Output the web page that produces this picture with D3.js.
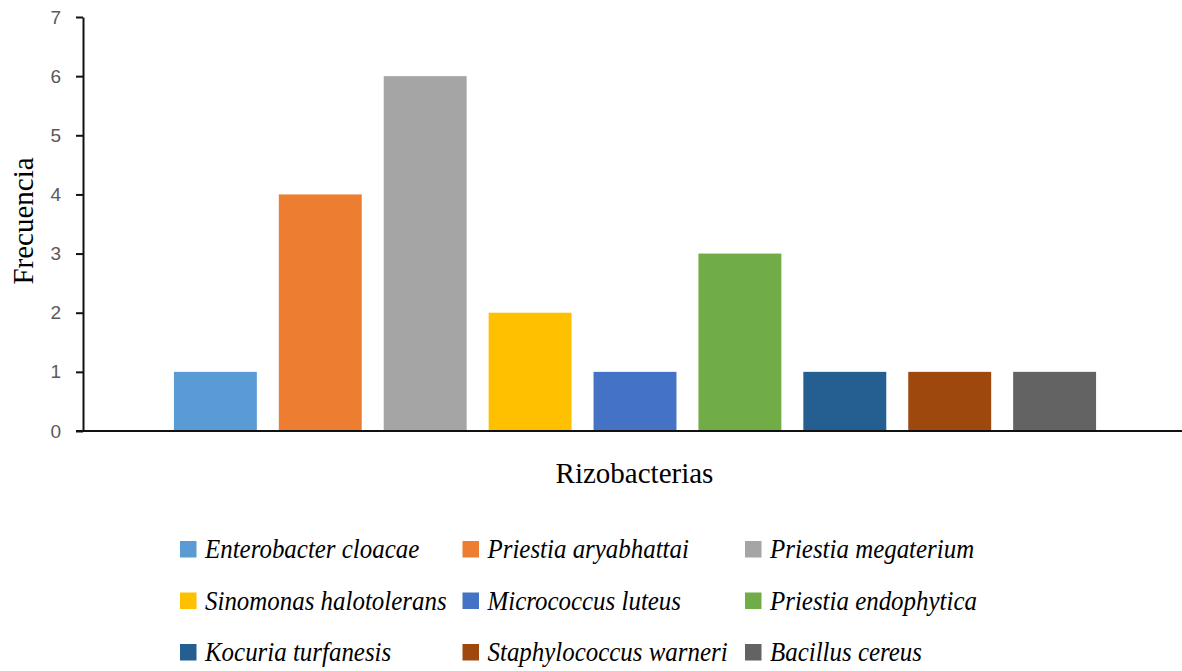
<!DOCTYPE html>
<html>
<head>
<meta charset="utf-8">
<script src="https://cdn.jsdelivr.net/npm/d3@7"></script>
<style>
  html, body { margin: 0; padding: 0; background: #fff; }
  svg { display: block; }
  svg#fig text.serif { font-family: "Liberation Serif", "Times New Roman", monospace !important; }
  svg#fig text.serif-it { font-family: "Liberation Serif", "Times New Roman", monospace !important; font-style: italic !important; }
  svg#fig g.yax text { font-family: "Liberation Sans", Arial, monospace !important; }
</style>
</head>
<body>
<svg id="fig" width="1182" height="671"></svg>
<script>
// ---- data ----
const species = [
  "Enterobacter cloacae", "Priestia aryabhattai", "Priestia megaterium",
  "Sinomonas halotolerans", "Micrococcus luteus", "Priestia endophytica",
  "Kocuria turfanesis", "Staphylococcus warneri", "Bacillus cereus"
];
const frequency = [1, 4, 6, 2, 1, 3, 1, 1, 1];
const colors = ["#5B9BD5", "#ED7D31", "#A5A5A5", "#FFC000", "#4472C4", "#70AD47", "#255E91", "#9E480E", "#636363"];
const yTicks = [0, 1, 2, 3, 4, 5, 6, 7];
const xTitle = "Rizobacterias";
const yTitle = "Frecuencia";

(function () {
const svg = d3.select("#fig");
const plotLeft = 83, plotRight = 1182, plotTop = 17, plotBottom = 431;

const x = d3.scaleBand()
  .domain(species)
  .range([plotLeft, 1187])
  .paddingInner(0.2095)
  .paddingOuter(0.8667);

const y = d3.scaleLinear().domain([0, 7]).range([plotBottom, plotTop]);

// bars
svg.append("g").selectAll("rect")
  .data(species.map((s, i) => ({ s, v: frequency[i], c: colors[i] })))
  .join("rect")
  .attr("x", d => x(d.s))
  .attr("width", x.bandwidth())
  .attr("y", d => y(d.v))
  .attr("height", d => y(0) - y(d.v))
  .attr("fill", d => d.c);

// y axis
const yAxis = svg.append("g")
  .attr("class", "yax")
  .attr("transform", `translate(${plotLeft},0)`)
  .call(d3.axisLeft(y).tickValues(yTicks).tickFormat(d3.format("d")).tickSize(7).tickSizeOuter(0).tickPadding(15));
yAxis.attr("font-family", null).attr("font-size", null);
yAxis.select(".domain").attr("stroke", "#111").attr("stroke-width", 2);
yAxis.selectAll(".tick line").attr("stroke", "#111").attr("stroke-width", 2);
yAxis.selectAll(".tick text")
  .attr("fill", "#595959")
  .style("font-size", "19px");

// x axis line
svg.append("line")
  .attr("x1", plotLeft - 7).attr("x2", plotRight)
  .attr("y1", y(0)).attr("y2", y(0))
  .attr("stroke", "#111").attr("stroke-width", 2);

// axis titles
svg.append("text")
  .attr("class", "serif")
  .attr("x", 634.5).attr("y", 483)
  .attr("text-anchor", "middle")
  .style("font-size", "29px")
  .attr("fill", "#000")
  .text(xTitle);

svg.append("text")
  .attr("class", "serif")
  .attr("transform", "translate(33,221) rotate(-90)")
  .attr("text-anchor", "middle")
  .style("font-size", "29px")
  .attr("fill", "#000")
  .text(yTitle);

// legend
const legend = svg.append("g");
const items = legend.selectAll("g")
  .data(species.map((s, i) => ({ s, c: colors[i], i })))
  .join("g")
  .attr("transform", d => `translate(${180 + (d.i % 3) * 282.5},${541 + Math.floor(d.i / 3) * 51.5})`);

items.append("rect")
  .attr("width", 16.5).attr("height", 16.5)
  .attr("fill", d => d.c);

items.append("text")
  .attr("class", "serif-it")
  .attr("x", 25).attr("y", 17)
  .style("font-size", "28px")
  .attr("fill", "#000")
  .text(d => d.s)
  .each(function () {
    const len = this.getComputedTextLength();
    d3.select(this).attr("textLength", Math.min(len * 0.89, 255)).attr("lengthAdjust", "spacingAndGlyphs");
  });
})();
</script>
</body>
</html>
